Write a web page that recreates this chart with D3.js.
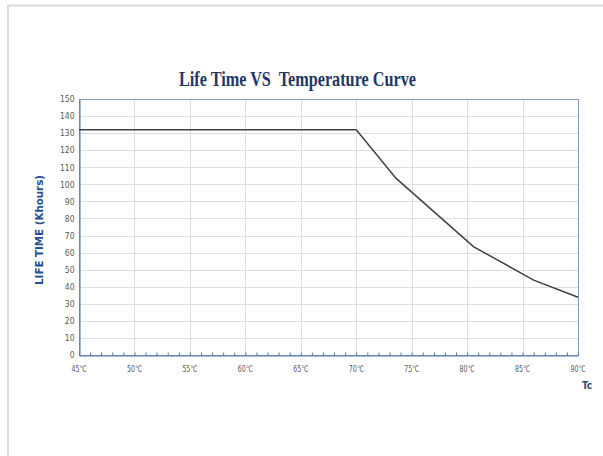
<!DOCTYPE html>
<html>
<head>
<meta charset="utf-8">
<script src="https://cdn.jsdelivr.net/npm/d3@7"></script>
<style>
  body { margin: 0; background: #fff; }
  svg { display: block; }
</style>
</head>
<body>
<div id="chart"></div>
<script>
// --------------- Data ---------------
const temps = [45, 70, 73.6, 80.6, 86, 90];
const lifeHours = [132, 132, 103.5, 63.4, 43.9, 33.8];
const xTicks = [45, 50, 55, 60, 65, 70, 75, 80, 85, 90];
const yTicks = [0, 10, 20, 30, 40, 50, 60, 70, 80, 90, 100, 110, 120, 130, 140, 150];

const WIDTH = 603;
const HEIGHT = 456;
const margin = { top: 99, right: 25, bottom: 101, left: 79 };
const width = WIDTH - margin.left - margin.right;
const height = HEIGHT - margin.top - margin.bottom;

const AXIS_COLOR = "#4f79a8";
const GRID_COLOR = "#d9dee8";
const LABEL_COLOR = "#595959";
const TICK_FONT = "DejaVu Sans Condensed, DejaVu Sans, sans-serif";

const svg = d3.select("#chart")
  .append("svg")
  .attr("width", WIDTH)
  .attr("height", HEIGHT);

// outer frame (top + left edges only)
svg.append("line")
  .attr("x1", 8).attr("x2", WIDTH).attr("y1", 5.5).attr("y2", 5.5)
  .attr("stroke", "#d9d9d9").attr("stroke-width", 2);
svg.append("line")
  .attr("x1", 8).attr("x2", 8).attr("y1", 5).attr("y2", HEIGHT)
  .attr("stroke", "#d9d9d9").attr("stroke-width", 2);

const g = svg.append("g")
  .attr("transform", "translate(" + margin.left + "," + margin.top + ")");

const x = d3.scaleLinear().domain([45, 90]).range([0, width]);
const y = d3.scaleLinear().domain([0, 150]).range([height, 0]);

// gridlines
g.append("g")
  .selectAll("line")
  .data(yTicks)
  .enter()
  .append("line")
  .attr("x1", 0).attr("x2", width)
  .attr("y1", d => Math.round(y(d)) + 0.5)
  .attr("y2", d => Math.round(y(d)) + 0.5)
  .attr("stroke", GRID_COLOR);

g.append("g")
  .selectAll("line")
  .data(xTicks)
  .enter()
  .append("line")
  .attr("y1", 0).attr("y2", height)
  .attr("x1", d => Math.round(x(d)) + 0.5)
  .attr("x2", d => Math.round(x(d)) + 0.5)
  .attr("stroke", GRID_COLOR);

// plot border
g.append("rect")
  .attr("x", 0.5).attr("y", 0.5)
  .attr("width", width).attr("height", height)
  .attr("fill", "none")
  .attr("stroke", "#7f9cc0")
  .attr("stroke-width", 1);

// minor ticks every 1 degree, pointing up into the plot
const xAxis = d3.axisTop(x)
  .tickValues(d3.range(45, 91, 1))
  .tickSize(3)
  .tickFormat("");

const gx = g.append("g")
  .attr("transform", "translate(0," + (height + 0.5) + ")")
  .call(xAxis);
gx.select(".domain").attr("stroke", AXIS_COLOR);
gx.selectAll(".tick line").attr("stroke", AXIS_COLOR);

// x tick labels
g.append("g")
  .selectAll("text")
  .data(xTicks)
  .enter()
  .append("text")
  .attr("x", d => x(d))
  .attr("y", height + 17)
  .attr("text-anchor", "middle")
  .attr("font-family", TICK_FONT)
  .attr("font-size", 9)
  .attr("textLength", 15)
  .attr("lengthAdjust", "spacingAndGlyphs")
  .attr("fill", LABEL_COLOR)
  .text(d => d + "℃");

// y axis
const yAxis = d3.axisLeft(y)
  .tickValues(yTicks)
  .tickSize(0)
  .tickPadding(5);

const gy = g.append("g")
  .attr("transform", "translate(0.5,0)")
  .call(yAxis);
gy.select(".domain").attr("stroke", AXIS_COLOR);
gy.selectAll("text")
  .attr("font-family", TICK_FONT)
  .attr("font-size", 8.5)
  .attr("fill", LABEL_COLOR);

// the curve
const points = temps.map((t, i) => ({ t: t, v: lifeHours[i] }));
const line = d3.line()
  .x(d => x(d.t))
  .y(d => y(d.v));

g.append("path")
  .datum(points)
  .attr("d", line)
  .attr("fill", "none")
  .attr("stroke", "#404040")
  .attr("stroke-width", 1.5);

// title
svg.append("text")
  .attr("x", 297.5)
  .attr("y", 86)
  .attr("text-anchor", "middle")
  .attr("font-family", "Liberation Serif, Times New Roman, serif")
  .attr("font-weight", "bold")
  .attr("font-size", 20)
  .attr("textLength", 237)
  .attr("lengthAdjust", "spacingAndGlyphs")
  .attr("fill", "#1f3864")
  .attr("xml:space", "preserve")
  .text("Life Time VS  Temperature Curve");

// y axis title
svg.append("text")
  .attr("transform", "translate(42.5,230) rotate(-90)")
  .attr("text-anchor", "middle")
  .attr("font-family", "DejaVu Sans, sans-serif")
  .attr("font-weight", "bold")
  .attr("font-size", 10)
  .attr("textLength", 110)
  .attr("lengthAdjust", "spacingAndGlyphs")
  .attr("fill", "#23508f")
  .text("LIFE TIME (Khours)");

// x axis title
svg.append("text")
  .attr("x", 587)
  .attr("y", 389)
  .attr("text-anchor", "middle")
  .attr("font-family", TICK_FONT)
  .attr("font-weight", "bold")
  .attr("font-size", 10)
  .attr("fill", "#2e4a6f")
  .text("Tc");
</script>
</body>
</html>
